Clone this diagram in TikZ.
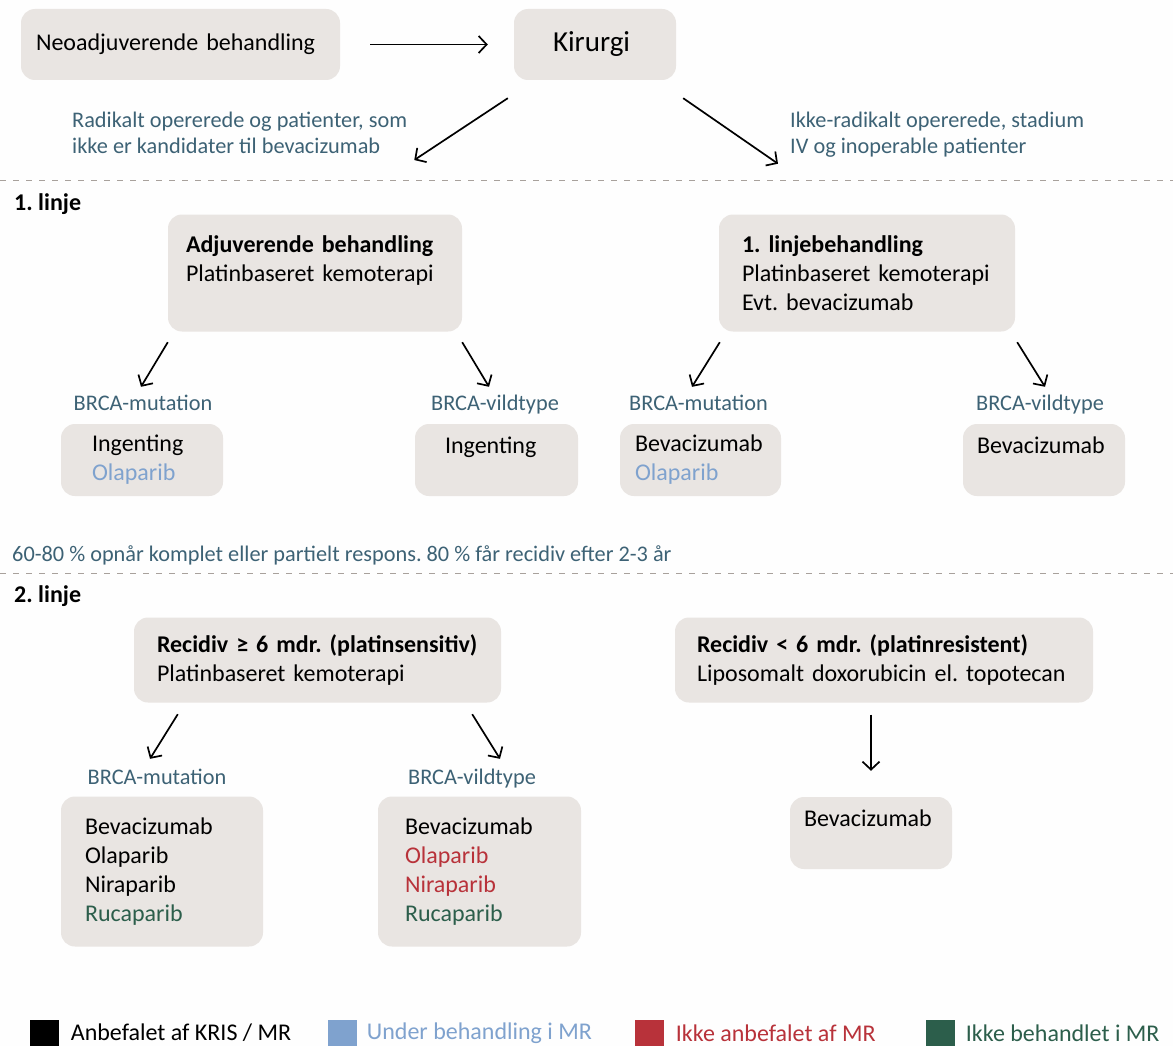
\documentclass[tikz,border=0pt]{standalone}
\usepackage{fontspec}
\setmainfont{Carlito}
\usetikzlibrary{arrows.meta,positioning,calc}
\definecolor{boxgray}{HTML}{E9E5E2}
\definecolor{tealtxt}{HTML}{3D6275}
\definecolor{lblue}{HTML}{7FA2CE}
\definecolor{mrred}{HTML}{B8323A}
\definecolor{mrgreen}{HTML}{2C5E4B}
\definecolor{dashgray}{HTML}{A8A19C}
\newcommand{\bigfs}{\fontsize{24}{29}\selectfont}
\newcommand{\smallfs}{\fontsize{22.3}{26}\selectfont}
\frenchspacing

\begin{document}
\begin{tikzpicture}[x=1pt,y=-1pt]
\tikzstyle{every node}=[inner sep=0pt, font=\bigfs]
\tikzstyle{box}=[rectangle, rounded corners=14pt, fill=boxgray, align=left]
\tikzstyle{lab}=[text=tealtxt, font=\smallfs]
\tikzstyle{brca}=[lab, text height=15pt, text depth=5pt]
\tikzstyle{arr}=[line width=1.7pt, -{Straight Barb[length=8pt,width=17pt]}]
\tikzstyle{sep}=[dashgray, line width=1pt, dash pattern=on 6pt off 7pt]
\tikzstyle{sq}=[rectangle, minimum width=29pt, minimum height=30pt]
\fill [white!98!boxgray] (0,0) rectangle (1173,1046);
\clip (0,0) rectangle (1173,1046);
% top row
\node [box, minimum width=319, minimum height=71, inner xsep=15pt, text width=289pt] (neo) at (180.5,44.5) {Neoadjuverende behandling};
\node [box, minimum width=162, minimum height=71, inner xsep=39pt, text width=84pt, font=\fontsize{29}{34}\selectfont] (kir) at (595,44.5) {Kirurgi};
\draw [arr, shorten <=30pt, shorten >=26pt] (neo) -- (kir);
\node [lab, anchor=north west, align=left] (rad) at (72,112) {Radikalt opererede og patienter, som\\ikke er kandidater til bevacizumab};
\node [lab, anchor=north west, align=left] (ikke) at (790,112) {Ikke-radikalt opererede, stadium\\IV og inoperable patienter};
\draw [arr] ($(kir.south west)+(-6,18)$) -- ($(rad.south east)+(7,6)$);
\draw [arr] ($(kir.south east)+(7,18)$) -- ($(ikke.south west)+(-12,6)$);
\draw [sep] (0,181) -- (1173,181);
% 1. linje
\node [anchor=west, font=\bigfs\bfseries] (lin1) at (14,204) {1. linje};
\node [box, minimum width=294, minimum height=117, inner xsep=18pt, text width=258pt] (adj) at (315,273) {\textbf{Adjuverende behandling}\\Platinbaseret kemoterapi\\\mbox{}};
\node [box, minimum width=296, minimum height=117, inner xsep=23pt, text width=250pt] (first) at (867,273) {\textbf{1. linjebehandling}\\Platinbaseret kemoterapi\\Evt. bevacizumab};
\node [brca] (m1) at (143,405) {BRCA-mutation};
\node [brca] (v1) at (495,405) {BRCA-vildtype};
\node [brca] (m2) at (698.5,405) {BRCA-mutation};
\node [brca] (v2) at (1040,405) {BRCA-vildtype};
\draw [arr] ($(adj.south west)+(0,10.5)$) -- ($(m1.north)+(-2,-8)$);
\draw [arr] ($(adj.south east)+(0,10.5)$) -- ($(v1.north)+(-6,-8)$);
\draw [arr] ($(first.south west)+(1,10.5)$) -- ($(m2.north)+(-6.5,-8)$);
\draw [arr] ($(first.south east)+(2,10.5)$) -- ($(v2.north)+(5,-8)$);
\node [box, minimum width=162, minimum height=72, inner xsep=31pt, text width=100pt] (ing1) at (142,460) {Ingenting\\\textcolor{lblue}{Olaparib}};
\node [box, minimum width=163, minimum height=72, inner xsep=30pt, text width=103pt] (ing2) at (496.5,460) {Ingenting\\\mbox{}};
\node [box, minimum width=161, minimum height=72, inner xsep=15pt, text width=131pt] (bev1) at (700.5,460) {Bevacizumab\\\textcolor{lblue}{Olaparib}};
\node [box, minimum width=162, minimum height=72, inner xsep=14pt, text width=134pt] (bev2) at (1044,460) {Bevacizumab\\\mbox{}};
\node [lab, anchor=west] (resp) at (12,555) {60-80 \% opnår komplet eller partielt respons. 80 \% får recidiv efter 2-3 år};
\draw [sep] (0,573) -- (1173,573);
% 2. linje
\node [anchor=west, font=\bigfs\bfseries] (lin2) at (14,596) {2. linje};
\node [box, minimum width=367, minimum height=85, inner xsep=23pt, text width=321pt] (rec1) at (317.5,660) {\textbf{Recidiv ≥ 6 mdr. (platinsensitiv)}\\Platinbaseret kemoterapi};
\node [box, minimum width=418, minimum height=85, inner xsep=22pt, text width=374pt] (rec2) at (884,660) {\textbf{Recidiv < 6 mdr. (platinresistent)}\\Liposomalt doxorubicin el. topotecan};
\node [brca] (m3) at (157,779) {BRCA-mutation};
\node [brca] (v3) at (472,779) {BRCA-vildtype};
\draw [arr] ($(rec1.south west)+(44,11.5)$) -- ($(m3.north)+(-7,-10)$);
\draw [arr] ($(rec1.south east)+(-29,11.5)$) -- ($(v3.north)+(28,-10)$);
\node [box, minimum width=202, minimum height=150, inner xsep=24pt, text width=154pt] (par1) at (162,871.5) {Bevacizumab\\Olaparib\\Niraparib\\\textcolor{mrgreen}{Rucaparib}};
\node [box, minimum width=203, minimum height=150, inner xsep=27pt, text width=149pt] (par2) at (479.5,871.5) {Bevacizumab\\\textcolor{mrred}{Olaparib}\\\textcolor{mrred}{Niraparib}\\\textcolor{mrgreen}{Rucaparib}};
\node [box, minimum width=162, minimum height=72, inner xsep=14pt, text width=134pt] (bev3) at (871,833) {Bevacizumab\\\mbox{}};
\draw [arr, shorten <=12pt, shorten >=26pt] (bev3.north |- rec2.south) -- (bev3.north);
% legend
\node [sq, fill=black] (sq1) at (44,1035) {};
\node [right=12pt of sq1, yshift=2pt] (t1) {Anbefalet af KRIS / MR};
\node [sq, fill=lblue] (sq2) at (342,1035) {};
\node [right=10pt of sq2, yshift=2pt, text=lblue] (t2) {Under behandling i MR};
\node [sq, fill=mrred] (sq3) at (649,1035) {};
\node [right=12pt of sq3, yshift=2pt, text=mrred] (t3) {Ikke anbefalet af MR};
\node [sq, fill=mrgreen] (sq4) at (940,1035) {};
\node [right=11pt of sq4, yshift=2pt, text=mrgreen] (t4) {Ikke behandlet i MR};
\end{tikzpicture}
\end{document}
